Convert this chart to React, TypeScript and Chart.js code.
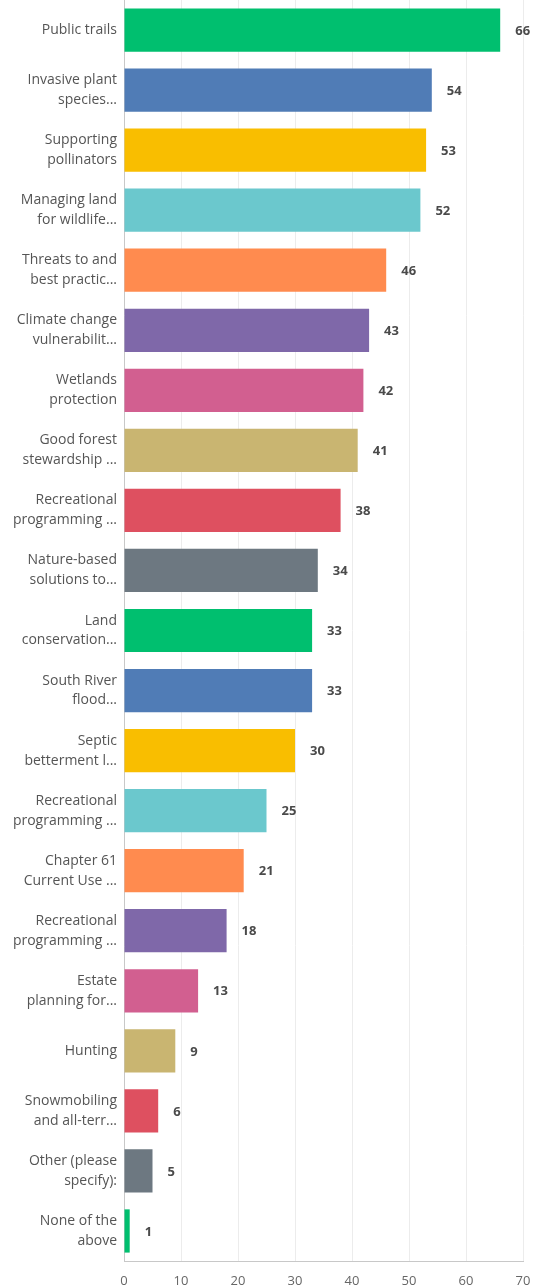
import React, { useEffect, useRef } from "react";
import { Chart, registerables } from "chart.js";

Chart.register(...registerables);

const categories: string[][] = [
  ["Public trails"],
  ["Invasive plant", "species..."],
  ["Supporting", "pollinators"],
  ["Managing land", "for wildlife..."],
  ["Threats to and", "best practic..."],
  ["Climate change", "vulnerabilit..."],
  ["Wetlands", "protection"],
  ["Good forest", "stewardship ..."],
  ["Recreational", "programming ..."],
  ["Nature-based", "solutions to..."],
  ["Land", "conservation..."],
  ["South River", "flood..."],
  ["Septic", "betterment l..."],
  ["Recreational", "programming ..."],
  ["Chapter 61", "Current Use ..."],
  ["Recreational", "programming ..."],
  ["Estate", "planning for..."],
  ["Hunting"],
  ["Snowmobiling", "and all-terr..."],
  ["Other (please", "specify):"],
  ["None of the", "above"],
];

const values: number[] = [66, 54, 53, 52, 46, 43, 42, 41, 38, 34, 33, 33, 30, 25, 21, 18, 13, 9, 6, 5, 1];

const palette: string[] = [
  "#00BF6F",
  "#507CB6",
  "#F9BE00",
  "#6BC8CD",
  "#FF8B4F",
  "#7F68A9",
  "#D25F90",
  "#C9B571",
  "#DE5060",
  "#6D7881",
];

const xTicks: number[] = [0, 10, 20, 30, 40, 50, 60, 70];

const valueLabels = {
  id: "valueLabels",
  afterDatasetsDraw(chart: any) {
    const ctx = chart.ctx;
    const meta = chart.getDatasetMeta(0);
    ctx.save();
    ctx.font = "bold 13px 'Open Sans', sans-serif";
    ctx.fillStyle = "#4a4a4a";
    ctx.textAlign = "left";
    ctx.textBaseline = "middle";
    meta.data.forEach((bar: any, i: number) => {
      ctx.fillText(String(values[i]), bar.x + 15, bar.y + 1);
    });
    ctx.restore();
  },
};

export default function App() {
  const ref = useRef<HTMLCanvasElement>(null);
  useEffect(() => {
    if (!ref.current) return;
    const chart = new Chart(ref.current, {
      type: "bar",
      data: {
        labels: categories,
        datasets: [
          {
            data: values,
            backgroundColor: values.map((_, i) => palette[i % palette.length]),
            barPercentage: 0.72,
            categoryPercentage: 1,
          },
        ],
      },
      options: {
        indexAxis: "y",
        animation: false,
        responsive: false,
        maintainAspectRatio: false,
        layout: { padding: { left: 0, right: 15, top: 0, bottom: 0 } },
        plugins: { legend: { display: false }, tooltip: { enabled: false } },
        scales: {
          x: {
            min: 0,
            max: 70,
            afterBuildTicks: (scale: any) => {
              scale.ticks = xTicks.map((v) => ({ value: v }));
            },
            afterFit: (scale: any) => {
              scale.height = 27;
              scale.paddingLeft = 0;
              scale.paddingRight = 0;
            },
            grid: { color: "#ececec", drawTicks: false },
            border: { display: true, color: "#c8c8c8" },
            ticks: {
              color: "#666",
              padding: 12,
              font: { family: "'Open Sans', sans-serif", size: 13 },
            },
          },
          y: {
            afterFit: (scale: any) => {
              scale.width = 124;
              scale.paddingTop = 0;
              scale.paddingBottom = 0;
            },
            grid: { display: false, drawTicks: false },
            border: { display: true, color: "#c8c8c8" },
            ticks: {
              color: "#555",
              padding: 7,
              font: { family: "'Open Sans', sans-serif", size: 14, lineHeight: 1.42 },
            },
          },
        },
      },
      plugins: [valueLabels],
    });
    return () => chart.destroy();
  }, []);
  return (
    <div style={{ position: "fixed", left: 0, top: 0, width: 538, height: 1288, background: "#fff" }}>
      <canvas ref={ref} width={538} height={1288} style={{ width: 538, height: 1288 }} />
    </div>
  );
}
